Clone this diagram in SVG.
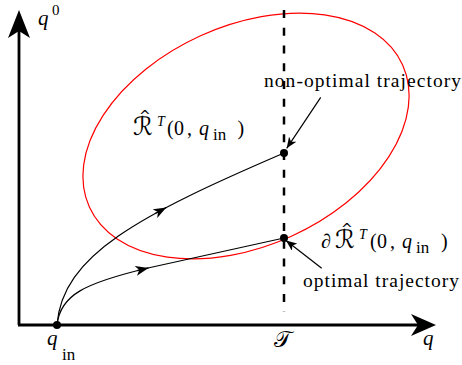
<svg xmlns="http://www.w3.org/2000/svg" width="462" height="365" viewBox="0 0 462 365">
  <style>
    .ax { stroke: #000; stroke-width: 2.8; fill: none; }
    .axhead { fill: #000; stroke: none; }
    .traj { stroke: #000; stroke-width: 1.2; fill: none; }
    .ann { stroke: #000; stroke-width: 1.2; fill: none; }
    .dash { stroke: #000; stroke-width: 2.5; stroke-dasharray: 8 9.75; fill: none; }
    .set { stroke: #ff0000; stroke-width: 1.2; fill: none; }
    .dot { fill: #000; }
    .it { font-style: italic; }
  </style>
  <defs>
    <marker id="mid" markerUnits="userSpaceOnUse" viewBox="0 0 13 10" refX="13" refY="5" markerWidth="13" markerHeight="10" orient="auto">
      <path d="M0,0 L13,5 L0,10 L3.5,5 z" fill="#000"/>
    </marker>
    <marker id="pt" markerUnits="userSpaceOnUse" viewBox="0 0 11 9" refX="11" refY="4.5" markerWidth="11" markerHeight="9" orient="auto">
      <path d="M0,0 L11,4.5 L0,9 L3,4.5 z" fill="#000"/>
    </marker>
  </defs>

  <g id="axes" font-family="'Liberation Serif', serif" font-size="21">
    <line class="ax" x1="19" y1="325" x2="19" y2="30"/>
    <polygon class="axhead" points="19,10 30,38 19,31 8,38"/>
    <line class="ax" x1="18" y1="325" x2="418" y2="325"/>
    <polygon class="axhead" points="436,325 411,336 418,325 411,314"/>
    <text class="it" x="38" y="25">q</text>
    <text x="52" y="15" font-size="15">0</text>
    <text class="it" x="423" y="345">q</text>
  </g>

  <g id="reachable-set" font-family="'Liberation Serif', serif" font-size="20">
    <ellipse class="set" cx="246" cy="136" rx="172" ry="110" transform="rotate(-24.4 246 136)"/>
    <text x="133" y="135" font-family="'DejaVu Sans', sans-serif" font-size="25">ℛ</text>
    <text x="139" y="121" font-family="'DejaVu Sans', sans-serif" font-size="14">^</text>
    <text class="it" x="157" y="126" font-size="14">T</text>
    <text x="167" y="135">(</text>
    <text x="174" y="135">0</text>
    <text x="187" y="135">,</text>
    <text class="it" x="199" y="135">q</text>
    <text x="213" y="140" font-size="17">in</text>
    <text x="237.5" y="135">)</text>
  </g>

  <g id="boundary-label" font-family="'Liberation Serif', serif" font-size="20">
    <text class="it" x="321" y="248">∂</text>
    <text x="335" y="248" font-family="'DejaVu Sans', sans-serif" font-size="25">ℛ</text>
    <text x="341" y="234" font-family="'DejaVu Sans', sans-serif" font-size="14">^</text>
    <text class="it" x="359" y="239" font-size="14">T</text>
    <text x="370" y="248">(</text>
    <text x="377" y="248">0</text>
    <text x="390" y="248">,</text>
    <text class="it" x="402" y="248">q</text>
    <text x="416" y="253" font-size="17">in</text>
    <text x="441" y="248">)</text>
  </g>

  <g id="deadline" font-family="'Liberation Serif', serif" font-size="23">
    <line class="dash" x1="284" y1="10" x2="284" y2="312"/>
    <text x="274" y="347" font-family="'DejaVu Sans', 'Noto Sans', sans-serif">𝒯</text>
  </g>

  <g id="connectors">
    <path class="traj" d="M57,325 C62,255 140,215 284,153"/>
    <path class="traj" d="M155.5,213.3 L166.3,207.5" marker-end="url(#mid)"/>
    <path class="traj" d="M57,325 C60,295 85,283 148,268 L284,238"/>
    <path class="traj" d="M137,270.6 L148.5,267.9" marker-end="url(#mid)"/>
    <path class="ann" d="M320.7,97.3 L286.7,148.3" marker-end="url(#pt)"/>
    <path class="ann" d="M321.7,268.3 L286,240.5" marker-end="url(#pt)"/>
  </g>

  <g id="point-qin" font-family="'Liberation Serif', serif" font-size="21">
    <circle class="dot" cx="57" cy="325" r="4"/>
    <text class="it" x="47" y="345">q</text>
    <text x="62" y="360" font-size="17">in</text>
  </g>

  <g id="point-nonoptimal">
    <circle class="dot" cx="284" cy="153" r="4"/>
  </g>
  <g id="point-optimal">
    <circle class="dot" cx="284" cy="238" r="4"/>
  </g>

  <g id="label-nonoptimal" font-family="'Liberation Serif', serif" font-size="19.5">
    <text x="264" y="86.5" textLength="197" lengthAdjust="spacing">non-optimal trajectory</text>
  </g>
  <g id="label-optimal" font-family="'Liberation Serif', serif" font-size="19.5">
    <text x="303" y="286.5" textLength="156" lengthAdjust="spacing">optimal trajectory</text>
  </g>
</svg>
